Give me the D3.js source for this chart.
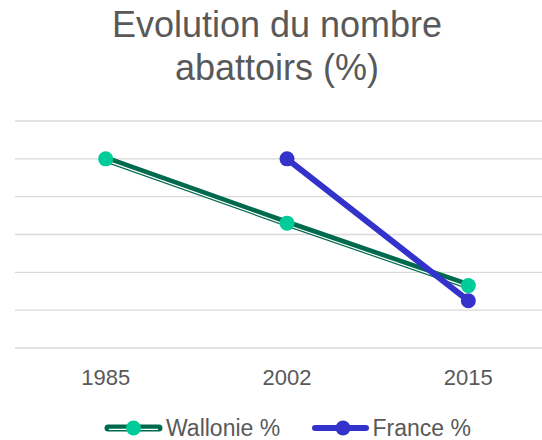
<!DOCTYPE html>
<html>
<head>
<meta charset="utf-8">
<script src="https://cdn.jsdelivr.net/npm/d3@7"></script>
<style>
  body { margin: 0; background: #fff; }
  svg { display: block; font-family: "Liberation Sans", Arial, sans-serif; }
</style>
</head>
<body>
<svg id="chart" width="542" height="440"></svg>
<script>
// chart data
var years = ["1985", "2002", "2015"];
var wallonie = [100, 66, 33];
var france = [null, 100, 25];
var yTicks = [0, 20, 40, 60, 80, 100, 120];
var titleLines = ["Evolution du nombre", "abattoirs (%)"];
var seriesNames = ["Wallonie %", "France %"];

var svg = d3.select("#chart");
var textColor = "#595959";
var darkGreen = "#006a4e";
var mint = "#00cc99";
var blue = "#3333cc";

var x = d3.scaleBand().domain(years).range([15, 559]).padding(0);
var y = d3.scaleLinear().domain([0, 120]).range([348, 121]);

// title
svg.append("g").selectAll("text")
  .data(titleLines)
  .join("text")
  .attr("x", 277)
  .attr("y", function(d, i) { return 37 + i * 43; })
  .attr("text-anchor", "middle")
  .attr("fill", textColor)
  .style("font-size", "36px")
  .text(function(d) { return d; });

// gridlines
svg.append("g").selectAll("line")
  .data(yTicks)
  .join("line")
  .attr("x1", 15).attr("x2", 542)
  .attr("y1", function(d) { return y(d); })
  .attr("y2", function(d) { return y(d); })
  .attr("stroke", "#d9d9d9")
  .attr("stroke-width", 1.3);

// x axis labels
var xAxis = d3.axisBottom(x).tickSize(0).tickPadding(0);
var gx = svg.append("g").attr("transform", "translate(0,369)").call(xAxis);
gx.select(".domain").remove();
gx.selectAll("text")
  .attr("fill", textColor)
  .style("font-size", "22px")
  .style("font-family", "'Liberation Sans', Arial, sans-serif");

function points(values) {
  return values.map(function(v, i) { return { year: years[i], value: v }; });
}
var cx = function(d) { return x(d.year) + x.bandwidth() / 2; };
var cy = function(d) { return y(d.value); };

var line = d3.line()
  .defined(function(d) { return d.value != null; })
  .x(cx)
  .y(cy);

var wPts = points(wallonie);
var fPts = points(france);

// Wallonie: compound (thick-thin) line
svg.append("path")
  .attr("d", line(wPts))
  .attr("fill", "none")
  .attr("stroke", darkGreen)
  .attr("stroke-width", 7);
svg.append("path")
  .attr("d", line(wPts))
  .attr("transform", "translate(0,1.8)")
  .attr("fill", "none")
  .attr("stroke", "#fff")
  .attr("stroke-width", 1.2);

// France line
svg.append("path")
  .attr("d", line(fPts))
  .attr("fill", "none")
  .attr("stroke", blue)
  .attr("stroke-width", 6)
  .attr("stroke-linecap", "round");

// markers
svg.append("g").selectAll("circle")
  .data(wPts)
  .join("circle")
  .attr("cx", cx)
  .attr("cy", cy)
  .attr("r", 7.5)
  .attr("fill", mint);

svg.append("g").selectAll("circle")
  .data(fPts.filter(function(d) { return d.value != null; }))
  .join("circle")
  .attr("cx", cx)
  .attr("cy", cy)
  .attr("r", 7.5)
  .attr("fill", blue);

// legend
var legY = 428;
var leg = svg.append("g");
leg.append("line")
  .attr("x1", 108).attr("x2", 159).attr("y1", legY).attr("y2", legY)
  .attr("stroke", darkGreen).attr("stroke-width", 7).attr("stroke-linecap", "round");
leg.append("line")
  .attr("x1", 109).attr("x2", 158).attr("y1", legY + 1.3).attr("y2", legY + 1.3)
  .attr("stroke", "#fff").attr("stroke-width", 1.2);
leg.append("circle").attr("cx", 133.5).attr("cy", legY).attr("r", 7.5).attr("fill", mint);
leg.append("text")
  .attr("x", 166).attr("y", legY + 8)
  .attr("fill", textColor).style("font-size", "23px")
  .text(seriesNames[0]);

leg.append("line")
  .attr("x1", 315).attr("x2", 366).attr("y1", legY).attr("y2", legY)
  .attr("stroke", blue).attr("stroke-width", 6).attr("stroke-linecap", "round");
leg.append("circle").attr("cx", 343).attr("cy", legY).attr("r", 7.5).attr("fill", blue);
leg.append("text")
  .attr("x", 372.5).attr("y", legY + 8)
  .attr("fill", textColor).style("font-size", "23px")
  .text(seriesNames[1]);
</script>
</body>
</html>
